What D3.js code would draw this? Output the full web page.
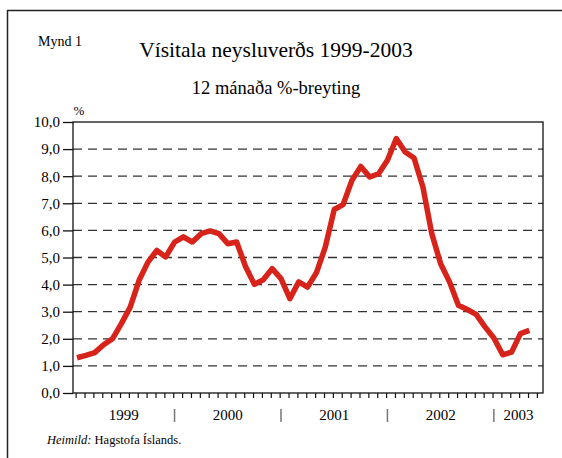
<!DOCTYPE html>
<html><head><meta charset="utf-8">
<script src="https://cdn.jsdelivr.net/npm/d3@7"></script>
<style>
html,body{margin:0;padding:0;background:#fff;}
svg{display:block;}
svg text{font-family:"Liberation Serif","Times New Roman",serif;}
</style></head>
<body>
<svg id="c" width="562" height="458" font-family="Liberation Serif, serif"></svg>
<script>
// ---- data ----
const values = [1.30,1.39,1.49,1.78,2.00,2.56,3.17,4.16,4.83,5.26,
                5.02,5.57,5.76,5.57,5.88,5.98,5.88,5.51,5.57,4.67,
                4.01,4.18,4.59,4.22,3.48,4.10,3.91,4.44,5.39,6.77,
                6.95,7.85,8.36,7.97,8.09,8.59,9.39,8.89,8.67,7.60,
                5.88,4.77,4.10,3.24,3.08,2.90,2.44,2.03,1.41,1.51,
                2.19,2.31];
const years = ["1999","2000","2001","2002","2003"];
const yearStartMonth = [0,12,24,36,48];
const yTicks = [0,1,2,3,4,5,6,7,8,9,10];
const monthTickCount = 53;

// ---- layout ----
const FONT = "Liberation Serif, serif";
const svg = d3.select("#c");
const L = 73, R = 543, T = 122, B = 393;
const x = d3.scaleLinear().domain([-0.45, 52.54]).range([L, R]);
const y = d3.scaleLinear().domain([0, 10]).range([B, T]);
const fmt = v => d3.format(".1f")(v).replace(".", ",");

// outer frame
svg.append("line").attr("x1",7).attr("x2",562).attr("y1",10.5).attr("y2",10.5)
  .attr("stroke","#222").attr("stroke-width",1.5);
svg.append("line").attr("x1",7.5).attr("x2",7.5).attr("y1",10).attr("y2",458)
  .attr("stroke","#222").attr("stroke-width",1.5);

// titles
svg.append("text").attr("x",38).attr("y",46).attr("font-size",14).attr("font-family",FONT).text("Mynd 1");
svg.append("text").attr("x",276).attr("y",57).attr("text-anchor","middle")
  .attr("font-size",21.5).attr("font-family",FONT).text("Vísitala neysluverðs 1999-2003");
svg.append("text").attr("x",276).attr("y",94).attr("text-anchor","middle")
  .attr("font-size",18.5).attr("font-family",FONT).text("12 mánaða %-breyting");
svg.append("text").attr("x",79).attr("y",115).attr("text-anchor","middle")
  .attr("font-size",13).attr("font-family",FONT).text("%");

// gridlines
svg.append("g").selectAll("line").data(yTicks.filter(v => v > 0 && v < 10)).join("line")
  .attr("x1",L).attr("x2",R).attr("y1",d=>y(d)).attr("y2",d=>y(d))
  .attr("stroke","#333").attr("stroke-width",1.3).attr("stroke-dasharray","9,6");

// y axis
const yAxis = d3.axisLeft(y).tickValues(yTicks).tickFormat(fmt).tickSize(10).tickPadding(3);
const gy = svg.append("g").attr("transform",`translate(${L},0)`).call(yAxis)
  .attr("font-family",FONT).attr("font-size",15);
gy.select(".domain").remove();
gy.selectAll(".tick line").attr("stroke","#111").attr("stroke-width",1.3);
gy.selectAll(".tick text").attr("fill","#000");

// plot frame
svg.append("rect").attr("x",L).attr("y",T).attr("width",R-L).attr("height",B-T)
  .attr("fill","none").attr("stroke","#111").attr("stroke-width",1.3);

// x month ticks
const mt = d3.range(monthTickCount).map(k => k - 0.15);
const xAxis = d3.axisBottom(x).tickValues(mt).tickFormat("").tickSize(5);
const gx = svg.append("g").attr("transform",`translate(0,${B})`).call(xAxis);
gx.select(".domain").remove();
gx.selectAll(".tick line").attr("stroke","#111").attr("stroke-width",1.2);

// year separators and labels
const seps = yearStartMonth.slice(1).map(m => m - 1);
svg.append("g").selectAll("line").data(seps).join("line")
  .attr("x1",d=>x(d)).attr("x2",d=>x(d)).attr("y1",409).attr("y2",422)
  .attr("stroke","#777").attr("stroke-width",1.5);
const bounds = [-0.45, ...seps, 52.54];
svg.append("g").attr("font-family",FONT).selectAll("text").data(years).join("text")
  .attr("x",(d,i)=>x((bounds[i]+bounds[i+1])/2)).attr("y",420)
  .attr("text-anchor","middle").attr("font-size",15).text(d=>d);

// line
const line = d3.line().x((d,i)=>x(i)).y(d=>y(d));
svg.append("path").datum(values).attr("d",line).attr("fill","none")
  .attr("stroke","#d8231a").attr("stroke-width",5.5)
  .attr("stroke-linejoin","round").attr("stroke-linecap","butt");

// source
const src = svg.append("text").attr("x",47).attr("y",444).attr("font-size",12.5).attr("font-family",FONT);
src.append("tspan").attr("font-style","italic").text("Heimild:");
src.append("tspan").text(" Hagstofa Íslands.");
</script>
</body></html>
